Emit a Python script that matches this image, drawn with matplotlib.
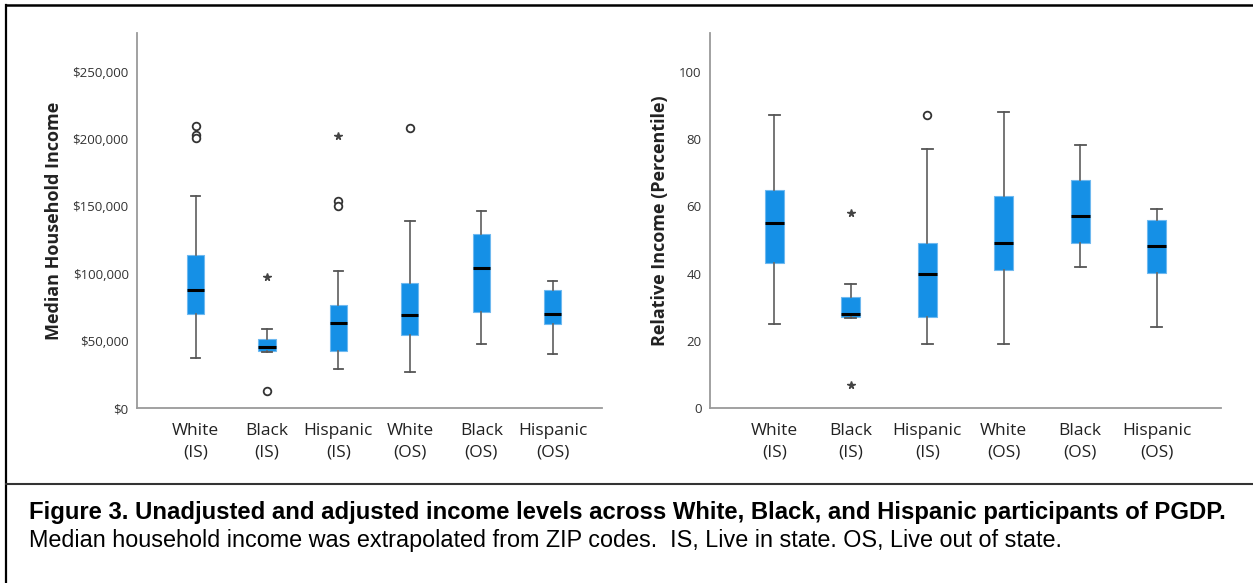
import matplotlib
matplotlib.use('Agg')
import matplotlib.pyplot as plt
from matplotlib.lines import Line2D
from matplotlib.ticker import FuncFormatter

# Category labels (shared by both panels)
groups = ['White\n(IS)', 'Black\n(IS)', 'Hispanic\n(IS)', 'White\n(OS)', 'Black\n(OS)', 'Hispanic\n(OS)']

# Panel A: median household income ($)
inc_low = [37200, 42000, 29000, 26600, 47900, 40200]
inc_q1 = [69800, 42200, 42200, 54600, 71500, 62600]
inc_med = [88100, 45200, 63100, 69500, 103800, 70000]
inc_q3 = [114000, 51400, 76700, 93100, 129100, 87600]
inc_high = [157600, 59100, 101800, 138800, 146700, 94600]
inc_out_x = [0, 0, 0, 1, 2, 2, 3]
inc_out_y = [209800, 202800, 200600, 12400, 153700, 150000, 208500]
inc_ext_x = [1, 2]
inc_ext_y = [97500, 202100]

# Panel B: relative income (percentile)
pct_low = [25.0, 26.8, 19.0, 19.0, 42.0, 24.0]
pct_q1 = [43.1, 27.0, 27.1, 41.1, 49.1, 40.1]
pct_med = [55.1, 28.0, 40.0, 49.1, 57.1, 48.1]
pct_q3 = [64.9, 32.9, 49.0, 63.0, 68.0, 55.9]
pct_high = [87.3, 37.0, 77.2, 88.2, 78.2, 59.1]
pct_out_x = [2]
pct_out_y = [87.1]
pct_ext_x = [1, 1]
pct_ext_y = [58.1, 6.9]

BOX_COLOR = '#1590e6'
AXIS_GREY = '#9a9a9a'
TEXT = '#222222'

plt.rcParams['font.family'] = ['Open Sans', 'DejaVu Sans']

fig = plt.figure(figsize=(12.53, 5.83), dpi=100)
fig.patch.set_facecolor('white')


def draw_panel(rect, low, q1, med, q3, high, out_x, out_y, ext_x, ext_y,
               ylim, xlim, width, yticks, fmt, ylabel, label_x):
    ax = fig.add_axes(rect)
    stats = []
    for i in range(len(groups)):
        stats.append(dict(whislo=low[i], q1=q1[i], med=med[i], q3=q3[i],
                          whishi=high[i], fliers=[], label=groups[i]))
    ax.bxp(stats, positions=range(len(groups)), widths=width, patch_artist=True,
           showfliers=False,
           boxprops=dict(facecolor=BOX_COLOR, edgecolor='#6fb9f0', linewidth=0.8),
           medianprops=dict(color='black', linewidth=2.2),
           whiskerprops=dict(color='#6a6a6a', linewidth=1.3),
           capprops=dict(color='#555555', linewidth=1.3),
           capwidths=width * 0.55)
    ax.plot(out_x, out_y, linestyle='none', marker='o', markersize=5.5,
            markerfacecolor='white', markeredgecolor='#333333', markeredgewidth=1.3)
    ax.plot(ext_x, ext_y, linestyle='none', marker='*', markersize=5.5,
            color='#444444')
    ax.set_xlim(*xlim)
    ax.set_ylim(*ylim)
    ax.set_yticks(yticks)
    ax.yaxis.set_major_formatter(FuncFormatter(fmt))
    ax.set_xticks(range(len(groups)))
    ax.set_xticklabels(groups, fontsize=12.5, color=TEXT, linespacing=1.45)
    ax.tick_params(axis='x', length=0, pad=11)
    ax.tick_params(axis='y', length=0, pad=6, labelsize=9.5, labelcolor='#333333')
    for side in ['top', 'right']:
        ax.spines[side].set_visible(False)
    for side in ['left', 'bottom']:
        ax.spines[side].set_color(AXIS_GREY)
        ax.spines[side].set_linewidth(1.3)
    ax.set_ylabel(ylabel, fontsize=13, fontweight='bold', color=TEXT)
    ax.yaxis.set_label_coords(label_x, 0.5)
    return ax


draw_panel([137 / 1253, 1 - 408 / 583, 465 / 1253, 375 / 583],
           inc_low, inc_q1, inc_med, inc_q3, inc_high,
           inc_out_x, inc_out_y, inc_ext_x, inc_ext_y,
           ylim=(0, 279000), xlim=(-0.82, 5.69), width=0.24,
           yticks=[0, 50000, 100000, 150000, 200000, 250000],
           fmt=lambda v, p: f'${v:,.0f}',
           ylabel='Median Household Income', label_x=-0.16)

draw_panel([710 / 1253, 1 - 408 / 583, 511 / 1253, 375 / 583],
           pct_low, pct_q1, pct_med, pct_q3, pct_high,
           pct_out_x, pct_out_y, pct_ext_x, pct_ext_y,
           ylim=(0, 111.6), xlim=(-0.84, 5.84), width=0.25,
           yticks=[0, 20, 40, 60, 80, 100],
           fmt=lambda v, p: f'{v:.0f}',
           ylabel='Relative Income (Percentile)', label_x=-0.08)

# Frame lines around figure and caption
top_y = 1 - 5 / 583
left_x = 6 / 1253
sep_y = 1 - 484 / 583
fig.add_artist(Line2D([left_x, 1], [top_y, top_y], color='black', linewidth=1.8))
fig.add_artist(Line2D([left_x, left_x], [0, top_y], color='black', linewidth=1.6))
fig.add_artist(Line2D([left_x, 1], [sep_y, sep_y], color='#333333', linewidth=1.5))

# Caption
fig.text(29 / 1253, 1 - 512 / 583,
         'Figure 3. Unadjusted and adjusted income levels across White, Black, and Hispanic participants of PGDP.',
         family=['Liberation Sans', 'DejaVu Sans'], fontsize=17.2, fontweight='bold',
         color='black', va='center', ha='left')
fig.text(29 / 1253, 1 - 540 / 583,
         'Median household income was extrapolated from ZIP codes.  IS, Live in state. OS, Live out of state.',
         family=['Liberation Sans', 'DejaVu Sans'], fontsize=16.8,
         color='black', va='center', ha='left')

fig.savefig('out.png', dpi=100)
